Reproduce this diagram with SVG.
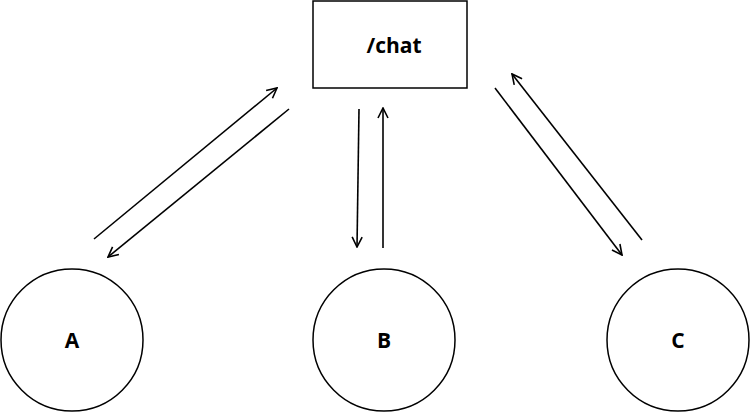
<svg xmlns="http://www.w3.org/2000/svg" width="750" height="412" viewBox="0 0 750 412">
<style>
.shape{fill:#fff;stroke:#000;stroke-width:1.5}
.lbl{font-family:"Open Sans","Liberation Sans",sans-serif;font-weight:bold;font-size:21px;text-anchor:middle;fill:#000}
.conn line{stroke:#000;stroke-width:1.6;fill:none}
</style>
<defs>
<marker id="arr" viewBox="0 0 12 12" refX="11" refY="6" markerWidth="12" markerHeight="12" markerUnits="userSpaceOnUse" orient="auto">
<path d="M1,1 L11,6 L1,11" fill="none" stroke="#000" stroke-width="1.6"/>
</marker>
</defs>
<rect width="750" height="412" fill="#fff"/>
<g id="chat"><rect class="shape" x="313" y="1" width="154" height="87"/><text class="lbl" x="394" y="53">/chat</text></g>
<g id="A"><circle class="shape" cx="72" cy="340" r="71"/><text class="lbl" x="72" y="348">A</text></g>
<g id="B"><circle class="shape" cx="384" cy="340" r="71"/><text class="lbl" x="384" y="348">B</text></g>
<g id="C"><circle class="shape" cx="678" cy="340" r="71"/><text class="lbl" x="678" y="348">C</text></g>
<g id="connectors" class="conn">
<line x1="94" y1="239" x2="277" y2="88" marker-end="url(#arr)"/>
<line x1="289" y1="109" x2="108" y2="257" marker-end="url(#arr)"/>
<line x1="359" y1="109" x2="357" y2="247" marker-end="url(#arr)"/>
<line x1="383" y1="248" x2="383" y2="108" marker-end="url(#arr)"/>
<line x1="495" y1="88" x2="622" y2="255" marker-end="url(#arr)"/>
<line x1="642" y1="240" x2="512" y2="74" marker-end="url(#arr)"/>
</g>
</svg>
